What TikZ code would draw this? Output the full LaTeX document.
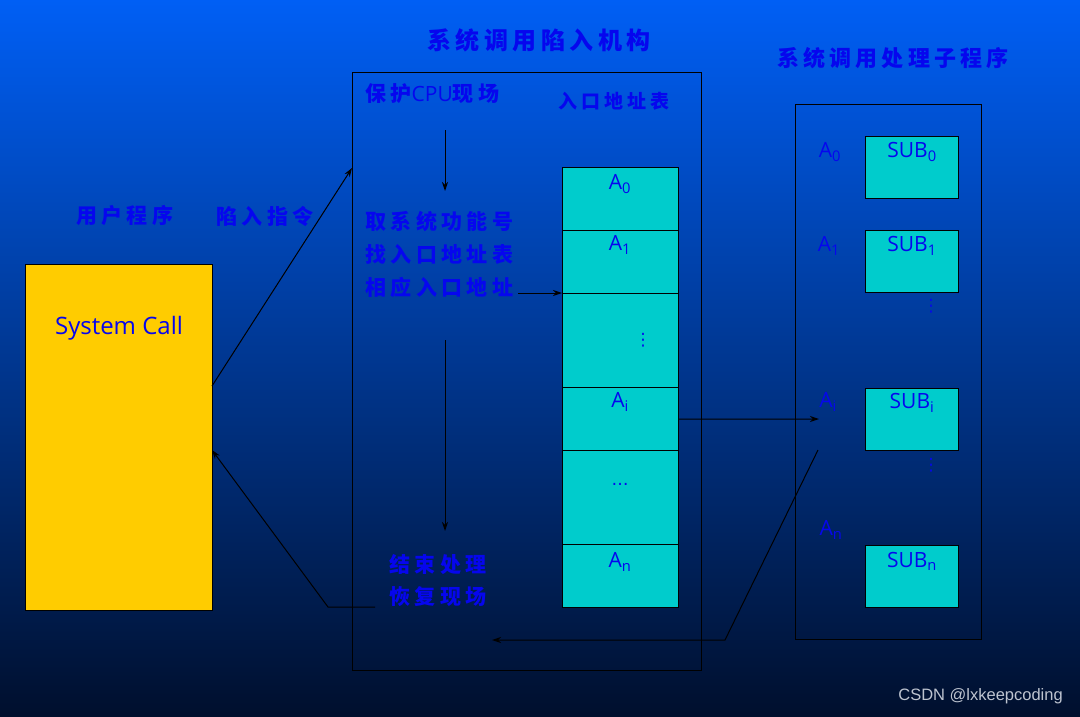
\documentclass[tikz,border=0pt]{standalone}
\usepackage{fontspec}
\usetikzlibrary{arrows.meta}
\setmainfont{Open Sans}
\newfontfamily\cjk{Noto Sans CJK SC}[LetterSpace=21]
\newfontfamily\cjkt{Noto Sans CJK SC}[LetterSpace=19]
\newfontfamily\latin{Open Sans}
\newfontfamily\wm{Liberation Sans}
\newfontfamily\dv{DejaVu Sans}
\definecolor{bgtop}{RGB}{0,95,245}
\definecolor{bgmid}{RGB}{0,62,172}
\definecolor{bgbot}{RGB}{0,15,45}
\definecolor{txtblue}{RGB}{6,6,238}
\definecolor{yel}{RGB}{255,204,0}
\definecolor{cyanf}{RGB}{0,204,204}
\definecolor{wmgray}{RGB}{190,196,208}
\tikzset{
  txt/.style={text=txtblue, inner sep=0pt},
  zh/.style={txt, font=\cjk\bfseries\fontsize{21}{24}\selectfont},
  ttl/.style={txt, font=\cjkt\bfseries\fontsize{24}{28}\selectfont},
  lat/.style={txt, font=\latin\fontsize{21}{24}\selectfont},
  dots/.style={txt, font=\dv\fontsize{17}{19}\selectfont},
  frame/.style={draw=black, line width=1pt, anchor=north west, inner sep=0pt},
  cell/.style={draw=black, line width=1.2pt, fill=cyanf, minimum width=116pt, anchor=north west, inner sep=0pt},
  sub/.style={draw=black, line width=1.2pt, fill=cyanf, minimum width=93pt, minimum height=62pt, anchor=north west, inner sep=0pt},
  arr/.style={-{Stealth[length=9pt,width=6pt]}, line width=1pt, black},
  ln/.style={line width=1pt, black}
}
\begin{document}
\begin{tikzpicture}[x=1pt,y=-1pt]
\useasboundingbox (0,0) rectangle (1080,716);
\shade[top color=bgtop, middle color=bgmid, bottom color=bgbot] (0,0) rectangle (1080,716);

% titles
\node[ttl] (title1) at (539,40) {系统调用陷入机构};
\node[ttl, font=\cjkt\bfseries\fontsize{22}{26}\selectfont] (title2) at (893,58) {系统调用处理子程序};

% user program box
\node[frame, fill=yel, minimum width=187pt, minimum height=346pt] (usr) at (25,264) {};
\node[lat, font=\latin\fontsize{24}{28}\selectfont] (sc) at (119,328) {System Call};
\node[zh, anchor=west] (up) at (76,216) {用户程序};
\node[zh, anchor=west] (trap) at (216,216) {陷入指令};

% middle box
\node[frame, minimum width=349pt, minimum height=598pt] (mid) at (352,72) {};
\node[zh, anchor=west] (p1) at (365,94) {保护{\latin\mdseries\fontsize{21}{24}\selectfont CPU}现场};
\node[zh, anchor=west, font=\cjk\bfseries\fontsize{19}{24}\selectfont] (tab) at (558,101) {入口地址表};
\node[zh, anchor=west] (q1) at (365,221) {取系统功能号};
\node[zh, anchor=west] (q2) at (365,254) {找入口地址表};
\node[zh, anchor=west] (q3) at (365,287) {相应入口地址};
\node[zh, anchor=west] (r1) at (389,565) {结束处理};
\node[zh, anchor=west] (r2) at (389,597) {恢复现场};

% table
\node[cell, minimum height=63pt] (t0) at (562,167) {};
\node[cell, minimum height=63pt] (t1) at (562,230) {};
\node[cell, minimum height=94pt] (t2) at (562,293) {};
\node[cell, minimum height=63pt] (t3) at (562,387) {};
\node[cell, minimum height=94pt] (t4) at (562,450) {};
\node[cell, minimum height=63pt] (t5) at (562,544) {};
\node[lat] (l0) at (620,184) {A\textsubscript{0}};
\node[lat] (l1) at (620,245) {A\textsubscript{1}};
\node[dots] (l2) at (643,340) {⋮};
\node[lat] (l3) at (620,402) {A\textsubscript{i}};
\node[dots] (l4) at (620,484) {…};
\node[lat] (l5) at (620,562) {A\textsubscript{n}};

% right box
\node[frame, minimum width=186pt, minimum height=535pt] (rbox) at (795,104) {};
\node[lat] (ra0) at (830,152) {A\textsubscript{0}};
\node[lat] (ra1) at (829,246) {A\textsubscript{1}};
\node[lat] (rai) at (828,402) {A\textsubscript{i}};
\node[lat] (ran) at (831,530) {A\textsubscript{n}};
\node[sub] (s0) at (865,136) {};
\node[sub] (s1) at (865,230) {};
\node[sub] (si) at (865,388) {};
\node[sub] (sn) at (865,545) {};
\node[lat] (s0l) at (912,152) {SUB\textsubscript{0}};
\node[lat] (s1l) at (912,246) {SUB\textsubscript{1}};
\node[lat] (sil) at (912,403) {SUB\textsubscript{i}};
\node[lat] (snl) at (912,561) {SUB\textsubscript{n}};
\node[dots] (d1) at (931,306) {⋮};
\node[dots] (d2) at (931,465) {⋮};

% connector points
\coordinate (uout) at (212,386);
\coordinate (min) at (352,168);
\coordinate (a1s) at (445,130);
\coordinate (a1e) at (445,191);
\coordinate (a2s) at (518,293);
\coordinate (a3s) at (445,340);
\coordinate (a3e) at (445,531);
\coordinate (aiend) at (819,419);
\coordinate (bs) at (818,450);
\coordinate (bm) at (725,640);
\coordinate (be) at (492,640);
\coordinate (rs) at (375,607);
\coordinate (rm) at (328,607);
\coordinate (uin) at (212,450);

\draw[arr] (uout) -- (min);
\draw[arr] (a1s) -- (a1e);
\draw[arr] (a2s) -- (t2.north west);
\draw[arr] (a3s) -- (a3e);
\draw[arr] (t3.east) -- (aiend);
\draw[arr] (bs) -- (bm) -- (be);
\draw[arr] (rs) -- (rm) -- (uin);

% watermark
\node[inner sep=0pt, anchor=east, text=wmgray, font=\wm\fontsize{16.5}{20}\selectfont] (wm) at (1063,696) {CSDN @lxkeepcoding};
\end{tikzpicture}
\end{document}
